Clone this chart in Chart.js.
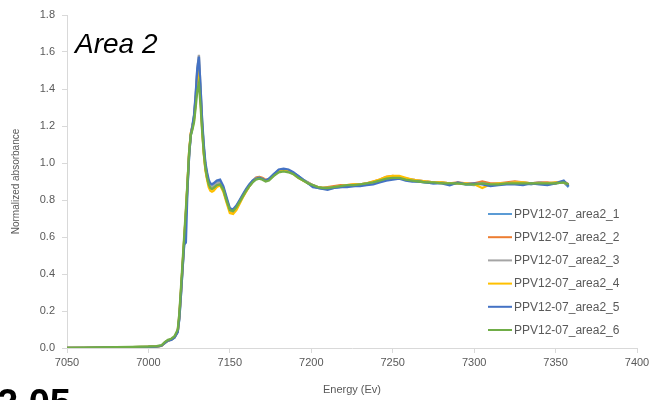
<!DOCTYPE html>
<html>
<head>
<meta charset="utf-8">
<script src="https://cdn.jsdelivr.net/npm/chart.js@4.4.1/dist/chart.umd.min.js"></script>
<style>
  html, body { margin: 0; padding: 0; background: #ffffff; }
  #wrap { position: relative; width: 655px; height: 400px; overflow: hidden; }
  canvas { display: block; }
</style>
</head>
<body>
<div id="wrap"><canvas id="c" width="655" height="400"></canvas></div>
<script>
// ---- DATA ----
const energies = [
  7050, 7060, 7070, 7080, 7090, 7100, 7105, 7108, 7110, 7112,
  7114, 7116, 7118, 7119, 7120, 7121, 7122, 7123, 7124, 7125,
  7126, 7127, 7128, 7129, 7130, 7131, 7132, 7133, 7134, 7135,
  7136, 7137, 7138, 7139, 7140, 7142, 7144, 7146, 7148, 7150,
  7152, 7154, 7156, 7158, 7160, 7162, 7164, 7166, 7168, 7170,
  7172, 7174, 7177, 7180, 7183, 7186, 7189, 7192, 7195, 7198,
  7201, 7204, 7207, 7210, 7214, 7218, 7222, 7226, 7230, 7234,
  7238, 7242, 7246, 7250, 7254, 7258, 7262, 7266, 7270, 7275,
  7280, 7285, 7290, 7295, 7300, 7305, 7310, 7315, 7320, 7325,
  7330, 7335, 7340, 7345, 7350, 7355, 7358
];

const area2_1 = [
  0.000, 0.001, 0.002, 0.003, 0.004, 0.006, 0.008, 0.013, 0.028, 0.040,
  0.046, 0.058, 0.088, 0.16, 0.29, 0.43, 0.57, 0.71, 0.87, 1.04,
  1.15, 1.19, 1.25, 1.35, 1.49, 1.53, 1.38, 1.21, 1.08, 0.99,
  0.935, 0.90, 0.88, 0.875, 0.88, 0.895, 0.90, 0.865, 0.805, 0.75,
  0.745, 0.765, 0.795, 0.825, 0.855, 0.88, 0.905, 0.92, 0.925, 0.915,
  0.905, 0.915, 0.94, 0.96, 0.965, 0.96, 0.945, 0.93, 0.91, 0.895,
  0.875, 0.865, 0.86, 0.86, 0.865, 0.87, 0.875, 0.875, 0.88, 0.885,
  0.89, 0.90, 0.91, 0.915, 0.92, 0.91, 0.905, 0.90, 0.895, 0.89,
  0.895, 0.885, 0.89, 0.885, 0.88, 0.89, 0.88, 0.885, 0.89, 0.895,
  0.89, 0.885, 0.895, 0.885, 0.89, 0.895, 0.87
];
const area2_2 = [
  0.000, 0.001, 0.002, 0.003, 0.005, 0.006, 0.009, 0.012, 0.029, 0.041,
  0.045, 0.059, 0.092, 0.18, 0.31, 0.45, 0.59, 0.73, 0.89, 1.06,
  1.16, 1.20, 1.24, 1.33, 1.47, 1.51, 1.36, 1.19, 1.06, 0.97,
  0.92, 0.885, 0.865, 0.86, 0.865, 0.88, 0.89, 0.855, 0.795, 0.74,
  0.735, 0.755, 0.785, 0.82, 0.85, 0.875, 0.90, 0.92, 0.925, 0.92,
  0.91, 0.91, 0.935, 0.955, 0.96, 0.955, 0.945, 0.925, 0.905, 0.895,
  0.88, 0.87, 0.865, 0.87, 0.875, 0.88, 0.88, 0.885, 0.885, 0.89,
  0.90, 0.91, 0.925, 0.93, 0.925, 0.915, 0.91, 0.905, 0.90, 0.895,
  0.895, 0.89, 0.895, 0.89, 0.89, 0.90, 0.89, 0.89, 0.895, 0.90,
  0.895, 0.89, 0.895, 0.895, 0.89, 0.90, 0.885
];
const area2_3 = [
  0.000, 0.001, 0.002, 0.003, 0.004, 0.006, 0.008, 0.012, 0.027, 0.039,
  0.045, 0.057, 0.089, 0.17, 0.30, 0.44, 0.58, 0.72, 0.88, 1.05,
  1.15, 1.20, 1.25, 1.36, 1.51, 1.585, 1.41, 1.22, 1.08, 0.98,
  0.93, 0.895, 0.875, 0.87, 0.875, 0.89, 0.895, 0.86, 0.80, 0.745,
  0.74, 0.76, 0.79, 0.82, 0.85, 0.875, 0.90, 0.915, 0.92, 0.915,
  0.905, 0.91, 0.935, 0.955, 0.96, 0.955, 0.945, 0.925, 0.91, 0.895,
  0.88, 0.87, 0.865, 0.865, 0.87, 0.875, 0.88, 0.88, 0.885, 0.89,
  0.895, 0.905, 0.92, 0.925, 0.925, 0.915, 0.91, 0.905, 0.90, 0.895,
  0.895, 0.89, 0.89, 0.89, 0.885, 0.89, 0.885, 0.89, 0.89, 0.895,
  0.895, 0.89, 0.895, 0.89, 0.895, 0.90, 0.88
];
const area2_4 = [
  0.000, 0.001, 0.002, 0.003, 0.004, 0.007, 0.008, 0.012, 0.028, 0.040,
  0.046, 0.058, 0.090, 0.17, 0.31, 0.45, 0.59, 0.73, 0.89, 1.06,
  1.16, 1.19, 1.23, 1.33, 1.46, 1.50, 1.35, 1.18, 1.05, 0.96,
  0.91, 0.87, 0.85, 0.845, 0.85, 0.87, 0.88, 0.845, 0.785, 0.73,
  0.725, 0.745, 0.78, 0.815, 0.845, 0.875, 0.90, 0.915, 0.92, 0.915,
  0.905, 0.91, 0.935, 0.955, 0.96, 0.955, 0.94, 0.92, 0.905, 0.89,
  0.875, 0.87, 0.865, 0.865, 0.87, 0.875, 0.88, 0.885, 0.885, 0.89,
  0.90, 0.91, 0.925, 0.93, 0.93, 0.92, 0.91, 0.905, 0.90, 0.895,
  0.895, 0.89, 0.89, 0.89, 0.885, 0.865, 0.885, 0.89, 0.89, 0.895,
  0.895, 0.89, 0.89, 0.89, 0.895, 0.895, 0.88
];
const area2_5 = [
  0.000, 0.001, 0.002, 0.003, 0.004, 0.006, 0.007, 0.012, 0.027, 0.040,
  0.044, 0.056, 0.086, 0.16, 0.29, 0.43, 0.56, 0.57, 0.86, 1.04,
  1.15, 1.20, 1.26, 1.37, 1.51, 1.575, 1.41, 1.23, 1.10, 1.00,
  0.95, 0.91, 0.89, 0.885, 0.89, 0.905, 0.91, 0.875, 0.815, 0.755,
  0.75, 0.77, 0.80, 0.83, 0.86, 0.885, 0.905, 0.915, 0.92, 0.915,
  0.905, 0.915, 0.94, 0.965, 0.97, 0.965, 0.95, 0.93, 0.91, 0.89,
  0.87, 0.865, 0.86, 0.855, 0.865, 0.87, 0.87, 0.875, 0.875, 0.88,
  0.885, 0.895, 0.905, 0.91, 0.915, 0.905, 0.90, 0.90, 0.895, 0.89,
  0.89, 0.88, 0.895, 0.885, 0.89, 0.885, 0.875, 0.88, 0.885, 0.885,
  0.88, 0.89, 0.885, 0.88, 0.89, 0.905, 0.875
];
const area2_6 = [
  0.000, 0.002, 0.003, 0.004, 0.006, 0.008, 0.010, 0.015, 0.032, 0.044,
  0.050, 0.064, 0.10, 0.19, 0.33, 0.47, 0.61, 0.75, 0.90, 1.06,
  1.15, 1.18, 1.22, 1.30, 1.39, 1.43, 1.31, 1.17, 1.05, 0.97,
  0.92, 0.885, 0.865, 0.86, 0.865, 0.88, 0.885, 0.855, 0.795, 0.745,
  0.74, 0.76, 0.79, 0.82, 0.85, 0.875, 0.895, 0.91, 0.915, 0.91,
  0.90, 0.905, 0.93, 0.95, 0.955, 0.95, 0.94, 0.92, 0.905, 0.89,
  0.88, 0.87, 0.865, 0.865, 0.87, 0.875, 0.88, 0.88, 0.885, 0.89,
  0.895, 0.905, 0.915, 0.92, 0.92, 0.91, 0.905, 0.90, 0.895, 0.895,
  0.89, 0.89, 0.89, 0.885, 0.885, 0.89, 0.885, 0.885, 0.89, 0.89,
  0.89, 0.89, 0.89, 0.89, 0.89, 0.895, 0.885
];

const seriesNames = ["PPV12-07_area2_1", "PPV12-07_area2_2", "PPV12-07_area2_3",
                     "PPV12-07_area2_4", "PPV12-07_area2_5", "PPV12-07_area2_6"];
const seriesValues = [area2_1, area2_2, area2_3, area2_4, area2_5, area2_6];
const seriesColors = ["#5B9BD5", "#ED7D31", "#A5A5A5", "#FFC000", "#4472C4", "#70AD47"];

const xTickLabels = ["7050", "7000", "7150", "7200", "7250", "7300", "7350", "7400"];
const yTickLabels = ["0.0", "0.2", "0.4", "0.6", "0.8", "1.0", "1.2", "1.4", "1.6", "1.8"];

const chartTitle = "Area 2";
const cornerText = "2.05";
const xTitle = "Energy (Ev)";
const yTitle = "Normalized absorbance";

// ---- CHART ----
const datasets = seriesValues.map((vals, i) => ({
  label: seriesNames[i],
  data: vals.map((v, j) => ({ x: energies[j], y: v })),
  borderColor: seriesColors[i],
  backgroundColor: seriesColors[i],
  borderWidth: 2.3,
  pointRadius: 0,
  tension: 0,
  fill: false,
  order: seriesValues.length - i
}));

const overlayPlugin = {
  id: 'overlay',
  afterDraw(chart) {
    const ctx = chart.ctx;
    ctx.save();
    ctx.fillStyle = '#000000';
    ctx.font = 'italic 28px "Liberation Sans", Arial, sans-serif';
    ctx.textAlign = 'left';
    ctx.textBaseline = 'alphabetic';
    ctx.fillText(chartTitle, 75, 53);
    const lx0 = 488, lx1 = 512, ty0 = 214, dy = 23.2;
    ctx.font = '12px "Liberation Sans", Arial, sans-serif';
    ctx.textBaseline = 'middle';
    chart.data.datasets.forEach((ds, i) => {
      const y = ty0 + i * dy;
      ctx.strokeStyle = ds.borderColor;
      ctx.lineWidth = 2;
      ctx.beginPath();
      ctx.moveTo(lx0, y);
      ctx.lineTo(lx1, y);
      ctx.stroke();
      ctx.fillStyle = '#595959';
      ctx.fillText(ds.label, lx1 + 2, y + 0.5);
    });
    ctx.fillStyle = '#000000';
    ctx.font = 'bold 38px "Liberation Sans", Arial, sans-serif';
    ctx.textBaseline = 'alphabetic';
    ctx.fillText(cornerText, -3, 416);
    ctx.restore();
  }
};

new Chart(document.getElementById('c'), {
  type: 'line',
  data: { datasets },
  options: {
    responsive: false,
    animation: false,
    layout: { padding: { left: 0, right: 18, top: 15, bottom: 0 } },
    plugins: { legend: { display: false }, tooltip: { enabled: false } },
    scales: {
      x: {
        type: 'linear',
        min: 7050, max: 7400,
        afterFit(s) { s.height = 52; },
        ticks: {
          stepSize: 50,
          color: '#595959',
          font: { family: '"Liberation Sans", Arial, sans-serif', size: 11 },
          padding: 3,
          maxRotation: 0,
          callback: (v) => {
            const k = Math.round((v - 7050) / 50);
            return xTickLabels[k] !== undefined ? xTickLabels[k] : '';
          }
        },
        grid: { display: true, drawOnChartArea: false, drawTicks: true, tickLength: 5, color: '#d9d9d9' },
        border: { display: true, color: '#d9d9d9', width: 1 },
        title: {
          display: true, text: xTitle, color: '#595959',
          font: { family: '"Liberation Sans", Arial, sans-serif', size: 11 },
          padding: { top: 0, bottom: 3 }
        }
      },
      y: {
        type: 'linear',
        min: 0, max: 1.8,
        afterFit(s) { s.width = 67; },
        ticks: {
          stepSize: 0.2,
          color: '#595959',
          font: { family: '"Liberation Sans", Arial, sans-serif', size: 11 },
          padding: 7,
          callback: (v) => {
            const k = Math.round(v / 0.2);
            return yTickLabels[k] !== undefined ? yTickLabels[k] : '';
          }
        },
        grid: { display: true, drawOnChartArea: false, drawTicks: true, tickLength: 5, color: '#d9d9d9' },
        border: { display: true, color: '#d9d9d9', width: 1 },
        title: {
          display: true, text: yTitle, color: '#595959',
          font: { family: '"Liberation Sans", Arial, sans-serif', size: 10 },
          padding: { top: 10, bottom: 0 }
        }
      }
    }
  },
  plugins: [overlayPlugin]
});
</script>
</body>
</html>
